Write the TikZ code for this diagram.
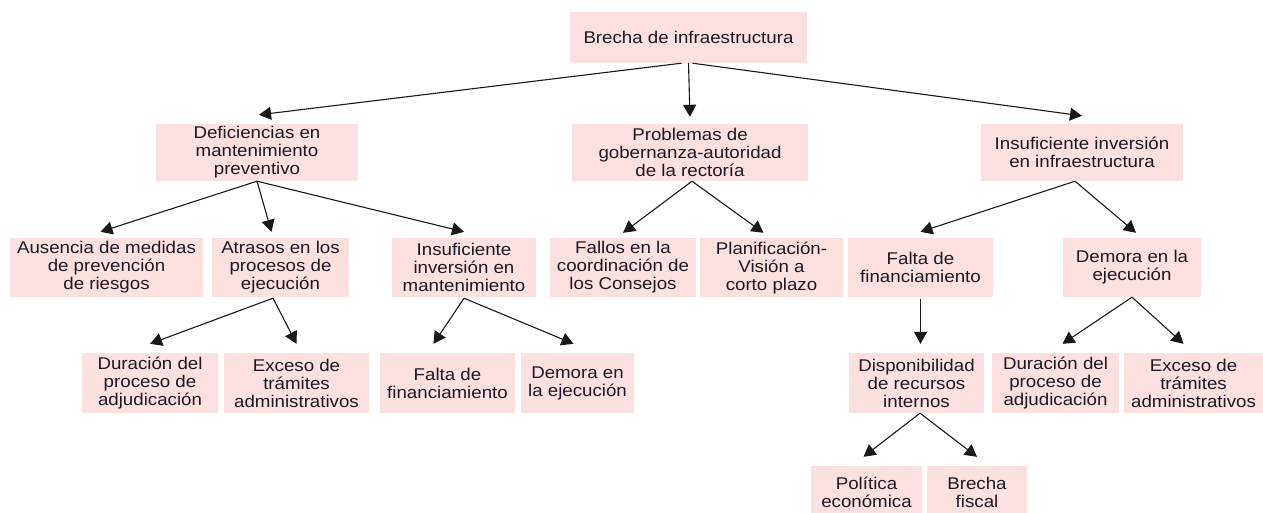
\documentclass[tikz,border=0pt]{standalone}
\usepackage{fontspec}
\setmainfont{Liberation Sans}[FakeStretch=1.1]
\usetikzlibrary{arrows.meta}
\definecolor{boxpink}{RGB}{253,224,224}
\definecolor{textcol}{RGB}{30,24,36}
\definecolor{linecol}{RGB}{25,25,25}
\tikzset{
  box/.style={fill=boxpink, inner sep=0pt, align=center, text=textcol,
    font=\fontsize{17}{18}\selectfont},
  arr/.style={draw=linecol, line width=1.1pt, -{Triangle[length=12pt,width=13pt]}}
}
\begin{document}
\begin{tikzpicture}[x=1pt,y=-1pt]
\clip (0,0) rectangle (1263,512);
\fill[white] (0,0) rectangle (1263,512);
% level 1
\node[box, minimum width=237pt, minimum height=51pt] (root) at (688.5,37.5) {Brecha de infraestructura};
% level 2
\node[box, minimum width=202pt, minimum height=57pt] (def) at (257,152.5) {Deficiencias en\\mantenimiento\\preventivo};
\node[box, minimum width=236pt, minimum height=57pt] (prob) at (690,152.5) {Problemas de\\gobernanza-autoridad\\de la rectoría};
\node[box, minimum width=202pt, minimum height=57pt] (insinf) at (1082,152.5) {Insuficiente inversión\\en infraestructura};
% level 3
\node[box, minimum width=193pt, minimum height=59pt] (aus) at (106.5,267.5) {Ausencia de medidas\\de prevención\\de riesgos};
\node[box, minimum width=137pt, minimum height=59pt] (atr) at (280.5,267.5) {Atrasos en los\\procesos de\\ejecución};
\node[box, minimum width=144pt, minimum height=59pt] (insman) at (464,267.5) {Insuficiente\\inversión en\\mantenimiento};
\node[box, minimum width=146pt, minimum height=59pt] (fal) at (623,267.5) {Fallos en la\\coordinación de\\los Consejos};
\node[box, minimum width=143pt, minimum height=59pt] (pla) at (771.5,267.5) {Planificación-\\Visión a\\corto plazo};
\node[box, minimum width=145pt, minimum height=59pt] (ffin) at (920.5,267.5) {Falta de\\financiamiento};
\node[box, minimum width=138pt, minimum height=59pt] (dem) at (1132,267.5) {Demora en la\\ejecución};
% level 4
\node[box, minimum width=136pt, minimum height=60pt] (dur1) at (150,383) {Duración del\\proceso de\\adjudicación};
\node[box, minimum width=145pt, minimum height=60pt] (exc1) at (296.5,383) {Exceso de\\trámites\\administrativos};
\node[box, minimum width=135pt, minimum height=60pt] (ffin2) at (447.5,383) {Falta de\\financiamiento};
\node[box, minimum width=113pt, minimum height=60pt] (dem2) at (577.5,383) {Demora en\\la ejecución};
\node[box, minimum width=135pt, minimum height=60pt] (disp) at (916.5,383) {Disponibilidad\\de recursos\\internos};
\node[box, minimum width=127pt, minimum height=60pt] (dur2) at (1055.5,383) {Duración del\\proceso de\\adjudicación};
\node[box, minimum width=139pt, minimum height=60pt] (exc2) at (1193.5,383) {Exceso de\\trámites\\administrativos};
% level 5
\node[box, minimum width=111pt, minimum height=53pt] (pol) at (866.5,492.5) {Política\\económica};
\node[box, minimum width=100pt, minimum height=53pt] (bfis) at (977,492.5) {Brecha\\fiscal};
% arrows
\draw[arr] ([xshift=-7pt]root.south) -- ([xshift=2pt,yshift=9pt]def.north);
\draw[arr] (root.south) -- ([yshift=7pt]prob.north);
\draw[arr] ([xshift=4pt]root.south) -- ([yshift=8pt]insinf.north);
\draw[arr] (def.south) -- ([xshift=-6pt,yshift=6pt]aus.north);
\draw[arr] (def.south) -- ([xshift=-9pt,yshift=6pt]atr.north);
\draw[arr] (def.south) -- ([yshift=6pt]insman.north);
\draw[arr] ([xshift=2pt]prob.south) -- ([yshift=5pt]fal.north);
\draw[arr] ([xshift=2pt]prob.south) -- ([xshift=-8pt,yshift=5pt]pla.north);
\draw[arr] ([xshift=-7pt]insinf.south) -- ([yshift=6pt]ffin.north);
\draw[arr] ([xshift=-7pt]insinf.south) -- ([xshift=4pt,yshift=5pt]dem.north);
\draw[arr] ([xshift=-7.5pt,yshift=-1pt]atr.south) -- ([yshift=9pt]dur1.north);
\draw[arr] ([xshift=-7.5pt,yshift=-1pt]atr.south) -- ([yshift=9pt]exc1.north);
\draw[arr] ([yshift=-1pt]insman.south) -- ([xshift=-14pt,yshift=9pt]ffin2.north);
\draw[arr] ([yshift=-1pt]insman.south) -- ([xshift=-4pt,yshift=9pt]dem2.north);
\draw[arr] ([yshift=-2pt]ffin.south) -- ([xshift=4pt,yshift=9pt]disp.north);
\draw[arr] (dem.south) -- ([xshift=7pt,yshift=9pt]dur2.north);
\draw[arr] (dem.south) -- ([xshift=-10pt,yshift=9pt]exc2.north);
\draw[arr] ([xshift=3.5pt]disp.south) -- ([xshift=-3pt,yshift=9pt]pol.north);
\draw[arr] ([xshift=3.5pt]disp.south) -- ([yshift=9pt]bfis.north);
\end{tikzpicture}
\end{document}
